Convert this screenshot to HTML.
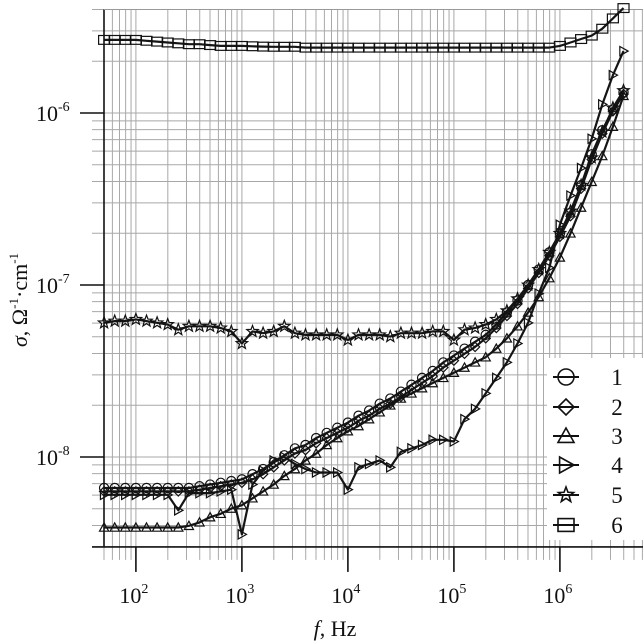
<!DOCTYPE html>
<html><head><meta charset="utf-8"><style>
html,body{margin:0;padding:0;background:#fff}
svg{display:block}
text{font-family:"Liberation Serif",serif;fill:#111}
</style></head><body>
<svg id="chart" width="643" height="643" viewBox="0 0 643 643" xmlns="http://www.w3.org/2000/svg">
<g id="grid"></g>
<g id="axes"></g>
<g id="series"></g>
<g id="legend"></g>
<text x="335" y="636" font-size="22" text-anchor="middle"><tspan font-style="italic">f</tspan>, Hz</text>
<text transform="translate(27,300) rotate(-90)" font-size="22" text-anchor="middle"><tspan font-style="italic">σ</tspan>, Ω<tspan font-size="13" dy="-9">-1</tspan><tspan dy="9">·cm</tspan><tspan font-size="13" dy="-9">-1</tspan></text>
</svg>
<script>
const logFreq = [1.7,1.8,1.9,2.0,2.1,2.2,2.3,2.4,2.5,2.6,2.7,2.8,2.9,3.0,3.1,3.2,3.3,3.4,3.5,3.6,3.7,3.8,3.9,4.0,4.1,4.2,4.3,4.4,4.5,4.6,4.7,4.8,4.9,5.0,5.1,5.2,5.3,5.4,5.5,5.6,5.7,5.8,5.9,6.0,6.1,6.2,6.3,6.4,6.5,6.6];
const s1 = [-8.18,-8.18,-8.18,-8.18,-8.18,-8.18,-8.18,-8.18,-8.18,-8.17,-8.16,-8.15,-8.14,-8.13,-8.10,-8.07,-8.03,-7.99,-7.95,-7.93,-7.89,-7.86,-7.83,-7.80,-7.76,-7.73,-7.69,-7.66,-7.62,-7.58,-7.54,-7.50,-7.45,-7.41,-7.37,-7.33,-7.29,-7.23,-7.16,-7.09,-7.00,-6.91,-6.81,-6.70,-6.58,-6.42,-6.24,-6.10,-5.98,-5.88];
const s2 = [-8.20,-8.20,-8.20,-8.20,-8.20,-8.20,-8.20,-8.20,-8.20,-8.19,-8.18,-8.17,-8.16,-8.15,-8.13,-8.10,-8.06,-8.02,-7.98,-7.96,-7.92,-7.89,-7.86,-7.83,-7.79,-7.76,-7.72,-7.69,-7.65,-7.61,-7.57,-7.53,-7.48,-7.44,-7.40,-7.36,-7.31,-7.25,-7.18,-7.11,-7.02,-6.93,-6.83,-6.72,-6.60,-6.44,-6.27,-6.12,-5.99,-5.89];
const s3 = [-8.41,-8.41,-8.41,-8.41,-8.41,-8.41,-8.41,-8.41,-8.40,-8.38,-8.35,-8.33,-8.30,-8.28,-8.24,-8.20,-8.16,-8.11,-8.07,-8.02,-7.98,-7.93,-7.89,-7.85,-7.82,-7.78,-7.74,-7.70,-7.66,-7.63,-7.60,-7.57,-7.54,-7.51,-7.48,-7.45,-7.42,-7.37,-7.31,-7.24,-7.16,-7.07,-6.96,-6.84,-6.70,-6.55,-6.40,-6.25,-6.08,-5.90];
const s4 = [-8.22,-8.22,-8.22,-8.22,-8.22,-8.22,-8.22,-8.31,-8.21,-8.21,-8.21,-8.20,-8.19,-8.45,-8.16,-8.08,-8.02,-8.00,-8.04,-8.07,-8.09,-8.09,-8.09,-8.19,-8.06,-8.04,-8.02,-8.06,-7.97,-7.95,-7.93,-7.90,-7.90,-7.91,-7.78,-7.72,-7.63,-7.54,-7.45,-7.34,-7.22,-7.05,-6.90,-6.65,-6.48,-6.32,-6.15,-5.95,-5.78,-5.64];
const s5 = [-7.22,-7.21,-7.21,-7.20,-7.21,-7.22,-7.23,-7.26,-7.24,-7.24,-7.24,-7.25,-7.27,-7.34,-7.27,-7.28,-7.27,-7.24,-7.28,-7.29,-7.29,-7.29,-7.29,-7.32,-7.29,-7.29,-7.29,-7.30,-7.28,-7.28,-7.28,-7.27,-7.27,-7.32,-7.26,-7.25,-7.23,-7.20,-7.15,-7.08,-7.00,-6.91,-6.81,-6.70,-6.57,-6.42,-6.26,-6.11,-5.97,-5.87];
const s6 = [-5.575,-5.575,-5.575,-5.575,-5.58,-5.585,-5.59,-5.595,-5.60,-5.60,-5.605,-5.61,-5.61,-5.61,-5.612,-5.614,-5.615,-5.615,-5.615,-5.62,-5.62,-5.62,-5.62,-5.62,-5.62,-5.62,-5.62,-5.62,-5.62,-5.62,-5.62,-5.62,-5.62,-5.62,-5.62,-5.62,-5.62,-5.62,-5.62,-5.62,-5.62,-5.62,-5.62,-5.61,-5.59,-5.57,-5.55,-5.51,-5.45,-5.39];
const seriesNames = ["1","2","3","4","5","6"];
const xTickExps = [2,3,4,5,6];
const yTickExps = [-6,-7,-8];

const NS="http://www.w3.org/2000/svg";
const X0=104, XD=106, LX0=1.699;
const Y0=113, YD=172;
const xs = lf => X0 + (lf-LX0)*XD;
const ys = ls => Y0 - (ls+6)*YD;
const TOP=ys(Math.log10(4e-6)), BOT=ys(Math.log10(3e-9)), RIGHT=643;
function mk(tag,attrs,parent){const e=document.createElementNS(NS,tag);for(const k in attrs)e.setAttribute(k,attrs[k]);parent.appendChild(e);return e;}
const grid=document.getElementById('grid'), axes=document.getElementById('axes'), ser=document.getElementById('series'), leg=document.getElementById('legend');

// vertical grid
for(let d=1;d<=6;d++){for(let m=1;m<=9;m++){const lf=d+Math.log10(m);const x=xs(lf);if(x<X0-0.5||x>RIGHT)continue;
 const l=mk('line',{x1:x,x2:x,y1:TOP,y2:BOT+13,stroke:'#a8a8a8','stroke-width':1},grid);
 
 }}
// horizontal grid
for(let d=-9;d<=-6;d++){for(let m=1;m<=9;m++){const ls=d+Math.log10(m);const y=ys(ls);if(y<TOP-0.5||y>BOT+0.5)continue;
 const l=mk('line',{x1:92,x2:RIGHT,y1:y,y2:y,stroke:'#a8a8a8','stroke-width':1},grid);
 
 }}
// axes
let a=mk('line',{x1:X0,x2:X0,y1:TOP,y2:BOT,stroke:'#111','stroke-width':1.6},axes);


a=mk('line',{x1:92,x2:RIGHT,y1:BOT,y2:BOT,stroke:'#111','stroke-width':1.6},axes);


a=mk('line',{x1:X0,x2:RIGHT,y1:TOP,y2:TOP,stroke:'#999','stroke-width':1},axes);


xTickExps.forEach(e=>{const x=xs(e);
 const t=mk('line',{x1:x,x2:x,y1:BOT,y2:BOT+25,stroke:'#111','stroke-width':1.6},axes);
 
 
 const tx=mk('text',{x:x-2,y:603,'font-size':22,'text-anchor':'middle'},axes);
 
 
 tx.innerHTML='10<tspan font-size="14" dy="-10">'+e+'</tspan>';});
yTickExps.forEach(e=>{const y=ys(e);
 const t=mk('line',{x1:80,x2:X0,y1:y,y2:y,stroke:'#111','stroke-width':1.6},axes);
 
 
 const tx=mk('text',{x:36,y:y+8,'font-size':22},axes);
 
 
 tx.innerHTML='10<tspan font-size="14" dy="-10">'+e+'</tspan>';});

function marker(type,cx,cy,r,parent){
 let el;
 const st={fill:'none',stroke:'#111','stroke-width':1.2};
 if(type==='circle'){el=mk('circle',Object.assign({cx:cx,cy:cy,r:r},st),parent);}
 else if(type==='square'){el=mk('rect',Object.assign({x:cx-r,y:cy-r*0.8,width:2*r,height:1.6*r},st),parent);}
 else{let pts;
  if(type==='diamond')pts=[[0,-r],[r,0],[0,r],[-r,0]];
  else if(type==='up')pts=[[0,-r],[r,r*0.8],[-r,r*0.8]];
  else if(type==='right')pts=[[r,0],[-r*0.8,-r],[-r*0.8,r]];
  else{pts=[];for(let i=0;i<10;i++){const rr=i%2?r*0.42:r;const ang=-Math.PI/2+i*Math.PI/5;pts.push([rr*Math.cos(ang),rr*Math.sin(ang)]);}}
  el=mk('polygon',Object.assign({points:pts.map(p=>(cx+p[0])+','+(cy+p[1])).join(' ')},st),parent);}
 return el;}

const allSeries=[s1,s2,s3,s4,s5,s6];
const types=['circle','diamond','up','right','star','square'];
allSeries.forEach((s,k)=>{
 const g=mk('g',{},ser);
 
 
 const d=s.map((v,i)=>(i?'L':'M')+xs(logFreq[i]).toFixed(1)+','+ys(v).toFixed(1)).join(' ');
 const p=mk('path',{d:d,fill:'none',stroke:'#151515','stroke-width':2.2,'stroke-linejoin':'round'},g);
 
 
 s.forEach((v,i)=>{const m=marker(types[k],xs(logFreq[i]),ys(v),types[k]==='square'?5.5:types[k]==='star'?6:4.6,g);
  
  });
});

// legend
const lb=mk('rect',{x:547,y:358,width:96,height:182,fill:'#fff'},leg);


const legY=[377,407,436,465,495,525];
seriesNames.forEach((n,k)=>{
 const g=mk('g',{},leg);
 
 
 mk('line',{x1:553,x2:579,y1:legY[k],y2:legY[k],stroke:'#111','stroke-width':2},g);
 marker(types[k],566,legY[k],types[k]==='square'?8:8,g).setAttribute('stroke-width',1.6);
 const t=mk('text',{x:617,y:legY[k]+8,'font-size':23,'text-anchor':'middle'},g);
 
 
 t.textContent=n;
});
</script>
</body></html>
